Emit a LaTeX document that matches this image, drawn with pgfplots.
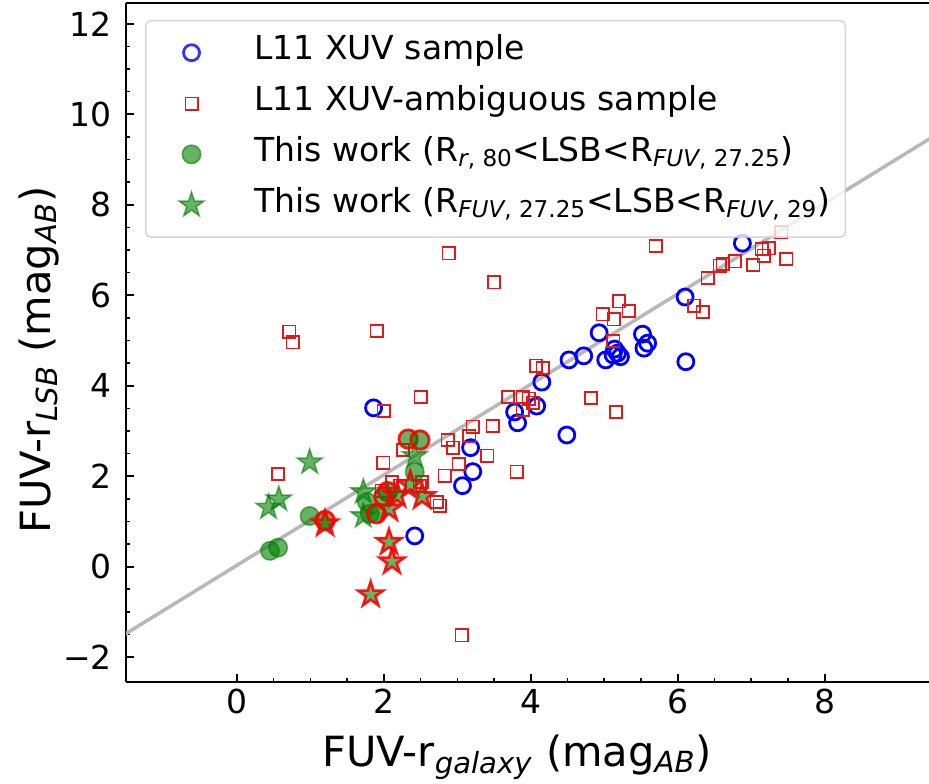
\documentclass[border=0pt]{standalone}
\usepackage{fontspec}
\setmainfont{DejaVu Sans}
\usepackage{pgfplots}
\pgfplotsset{compat=1.18}
\usetikzlibrary{plotmarks}
\definecolor{mplgreen}{rgb}{0,0.5,0}
\definecolor{sqred}{rgb}{0.88,0.1,0.1}
\definecolor{fitgray}{rgb}{0.72,0.72,0.72}
\pgfdeclareplotmark{fstar}{%
  \pgfpathmoveto{\pgfpointpolar{90}{\pgfplotmarksize}}%
  \pgfpathlineto{\pgfpointpolar{126}{0.382\pgfplotmarksize}}%
  \pgfpathlineto{\pgfpointpolar{162}{\pgfplotmarksize}}%
  \pgfpathlineto{\pgfpointpolar{198}{0.382\pgfplotmarksize}}%
  \pgfpathlineto{\pgfpointpolar{234}{\pgfplotmarksize}}%
  \pgfpathlineto{\pgfpointpolar{270}{0.382\pgfplotmarksize}}%
  \pgfpathlineto{\pgfpointpolar{306}{\pgfplotmarksize}}%
  \pgfpathlineto{\pgfpointpolar{342}{0.382\pgfplotmarksize}}%
  \pgfpathlineto{\pgfpointpolar{18}{\pgfplotmarksize}}%
  \pgfpathlineto{\pgfpointpolar{54}{0.382\pgfplotmarksize}}%
  \pgfpathclose
  \pgfusepathqfillstroke}
\pgfdeclareplotmark{osq}{%
  \pgfsetstrokecolor{sqred}%
  \pgfsetlinewidth{0.8pt}%
  \pgfpathrectangle{\pgfpoint{-\pgfplotmarksize}{-\pgfplotmarksize}}{\pgfpoint{2\pgfplotmarksize}{2\pgfplotmarksize}}%
  \pgfusepath{stroke}}
\begin{document}
\begin{tikzpicture}
\begin{axis}[
  at={(0,0)}, anchor=south west,
  scale only axis, width=401.5pt, height=339.5pt,
  xmin=-1.51, xmax=9.42, ymin=-2.55, ymax=12.46,
  axis lines=left, axis line style={-, line width=1.2pt, black},
  xtick={0,2,4,6,8}, xticklabels={0,2,4,6,8},
  ytick={-2,0,2,4,6,8,10,12}, yticklabels={−2,0,2,4,6,8,10,12},
  minor x tick num=3, minor y tick num=3,
  tick align=inside,
  major tick length=4pt, minor tick length=2.2pt,
  major tick style={line width=1pt, black},
  minor tick style={line width=0.8pt, black},
  tick label style={font=\fontsize{16.5}{19}\selectfont},
  yticklabel style={xshift=-3.5pt},
  xlabel={FUV-r\textsubscript{\textit{galaxy}} (mag\textsubscript{\textit{AB}})},
  ylabel={FUV-r\textsubscript{\textit{LSB}} (mag\textsubscript{\textit{AB}})},
  label style={font=\fontsize{20.8}{24}\selectfont},
  xlabel style={at={(axis description cs:0.487,-0.1237)}, anchor=base},
  ylabel style={at={(axis description cs:-0.0946,0.474)}, anchor=base, rotate=0},
  legend image code/.code={\draw[sharp corners,#1] plot coordinates {(0pt,0pt)}; \path (-18pt,0pt) (18pt,0pt);},
  legend cell align=left,
  legend style={at={(axis description cs:0.0237,0.975)}, anchor=north west,
    draw=black!20, line width=0.75pt, rounded corners=2.5pt,
    fill=white, fill opacity=0.8, draw opacity=0.8, text opacity=1,
    inner xsep=4.5pt, inner ysep=3.3pt, row sep=0pt, column sep=10pt,
    font=\fontsize{16.5}{20}\selectfont,
    nodes={inner xsep=3pt, inner ysep=1pt, text height=15.2pt, text depth=8.2pt}},
]
\addplot[fitgray, line width=1.75pt, forget plot] coordinates {(-2,-1.97) (10,10.03)};
\addplot[blue, only marks, mark=o, mark size=4pt, mark options={draw=blue, line width=1.4pt}] coordinates {
(6.88,7.15) (6.10,5.96) (6.11,4.53) (4.93,5.17) (5.52,5.14) (5.59,4.94) (5.54,4.83)
(5.14,4.81) (5.18,4.72) (5.22,4.64) (5.12,4.68) (5.02,4.57) (4.72,4.66) (4.52,4.57)
(4.15,4.08) (4.08,3.55) (3.78,3.42) (3.82,3.18) (4.49,2.91) (3.18,2.63) (3.21,2.10)
(3.07,1.79) (1.86,3.51) (2.42,0.68)};
\addlegendentry{L11 XUV sample}
\addplot[sqred, only marks, mark=osq, mark size=3.1pt, mark options={draw=sqred, draw opacity=1, line width=0.8pt}] coordinates {
(5.70,7.09) (7.41,7.39) (7.14,7.02) (7.24,7.04) (7.17,6.87) (7.48,6.80) (7.03,6.67)
(6.78,6.75) (6.61,6.69) (6.57,6.65) (6.41,6.38) (6.22,5.77) (6.34,5.63) (5.20,5.87)
(5.33,5.65) (5.13,5.47) (4.98,5.58) (5.12,4.99) (2.88,6.93) (3.50,6.29) (4.07,4.44)
(4.16,4.39) (3.69,3.75) (3.89,3.75) (3.97,3.71) (4.03,3.62) (3.89,3.47) (4.82,3.73)
(5.16,3.42) (3.48,3.11) (3.41,2.45) (3.81,2.10) (0.71,5.19) (0.76,4.96) (1.90,5.21)
(2.50,3.75) (2.00,3.44) (3.21,3.09) (2.87,2.80) (3.16,2.89) (2.94,2.63) (1.99,2.30)
(0.56,2.05) (2.26,2.58) (3.02,2.27) (2.83,2.01) (2.11,1.87) (1.97,1.68) (2.52,1.87)
(2.49,1.79) (2.72,1.43) (2.76,1.35) (3.06,-1.52) (2.22,1.79)};
\addlegendentry{L11 XUV-ambiguous sample}
\addplot[mplgreen, only marks, mark=*, mark size=4.6pt, mark options={fill=mplgreen, fill opacity=0.6, draw=mplgreen, draw opacity=0.6, line width=0.8pt}] coordinates {
(0.45,0.35) (0.56,0.42) (0.99,1.12) (2.42,2.09) (1.77,1.43) (1.81,1.17)};
\addlegendentry{This work (R\textsubscript{\textit{r}, 80}<LSB<R\textsubscript{\textit{FUV}, 27.25})}
\addplot[mplgreen, only marks, mark=fstar, mark size=6.5pt, mark options={fill=mplgreen, fill opacity=0.6, draw=mplgreen, draw opacity=0.6, line width=0.8pt, miter limit=10}] coordinates {
(0.99,2.31) (0.57,1.49) (0.43,1.31) (1.72,1.65) (1.72,1.12) (2.42,2.45)};
\addlegendentry{This work (R\textsubscript{\textit{FUV}, 27.25}<LSB<R\textsubscript{\textit{FUV}, 29})}
\addplot[red, forget plot, only marks, mark=*, mark size=4.6pt, mark options={fill=mplgreen, fill opacity=0.6, draw=red, draw opacity=0.9, line width=1.4pt}] coordinates {
(2.33,2.82) (2.49,2.80) (1.20,1.02) (2.05,1.66) (2.00,1.55) (1.90,1.17)};
\addplot[red, forget plot, only marks, mark=fstar, mark size=6.5pt, mark options={fill=mplgreen, fill opacity=0.6, draw=red, draw opacity=0.9, line width=1.3pt, miter limit=10}] coordinates {
(1.20,0.95) (2.07,0.54) (2.11,0.11) (1.82,-0.62) (2.36,1.82) (2.52,1.55) (2.07,1.28) (2.18,1.58)};
\draw[line width=1.2pt, black] (rel axis cs:0,1) -- (rel axis cs:1,1);
\end{axis}
\pgfresetboundingbox
\useasboundingbox (-63pt,-50.5pt) rectangle (401.5pt,341pt);
\end{tikzpicture}
\end{document}
